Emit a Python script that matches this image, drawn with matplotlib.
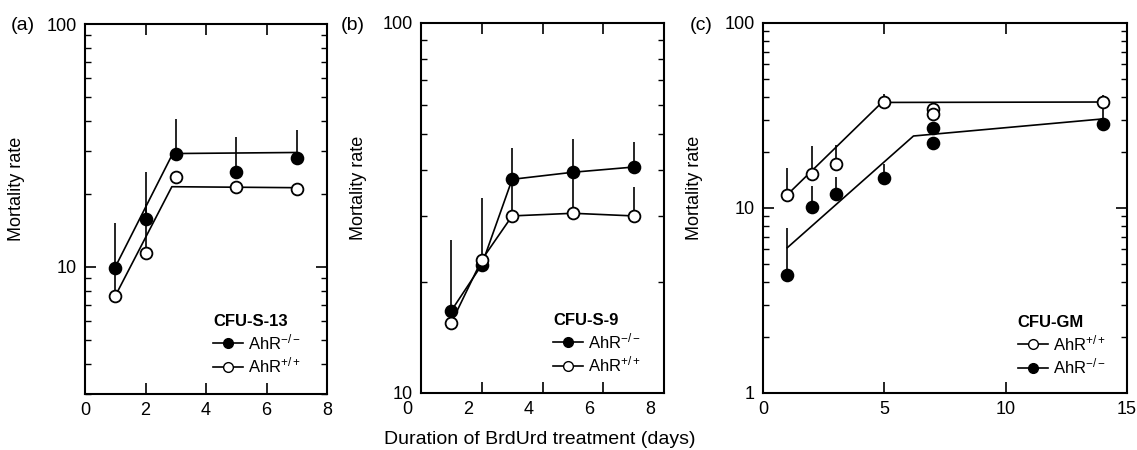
import matplotlib
matplotlib.use('Agg')
import matplotlib.pyplot as plt
import matplotlib.transforms as mtransforms
from matplotlib.lines import Line2D
from matplotlib.ticker import FixedLocator, LogLocator, NullFormatter, FormatStrFormatter
import numpy as np

plt.rcParams['font.family'] = ['Liberation Sans', 'DejaVu Sans']
plt.rcParams['mathtext.fontset'] = 'custom'
plt.rcParams['mathtext.rm'] = 'Liberation Sans'
plt.rcParams['mathtext.it'] = 'Liberation Sans:italic'
plt.rcParams['mathtext.bf'] = 'Liberation Sans:bold'

# (a) CFU-S-13
a_dias = [1, 2, 3, 5, 7]
a_ko = [9.9, 15.8, 29.3, 24.7, 28.2]
a_ko_err = [5.3, 8.9, 11.2, 9.7, 8.3]
a_wt = [7.6, 11.4, 23.5, 21.4, 21.0]
a_wt_err = [2.4, 6.8, 0, 0, 0]
a_ko_fit_x = [1, 2.9, 7]
a_ko_fit_y = [10.0, 29.3, 29.6]
a_wt_fit_x = [1, 2.87, 7]
a_wt_fit_y = [7.6, 21.4, 21.2]

# (b) CFU-S-9
b_dias = [1, 2, 3, 5, 7]
b_ko = [16.7, 22.2, 37.8, 39.5, 40.8]
b_ko_err = [9.2, 11.5, 8.1, 9.0, 6.9]
b_wt = [15.5, 22.9, 30.1, 30.6, 30.1]
b_wt_err = [1.2, 0, 7.0, 8.4, 6.0]

# (c) CFU-GM
c_dias = [1, 2, 3, 5, 7, 7, 14]
c_wt = [11.8, 15.3, 17.3, 37.4, 34.3, 32.2, 37.4]
c_wt_err = [4.7, 6.3, 4.6, 3.9, 2.0, 0, 3.6]
c_ko = [4.35, 10.1, 11.9, 14.5, 27.0, 22.4, 28.4]
c_ko_err = [3.45, 3.0, 2.8, 2.8, 0, 0, 5.9]
c_wt_fit_x = [1, 4.9, 14]
c_wt_fit_y = [11.8, 37.2, 37.4]
c_ko_fit_x = [1, 6.2, 14]
c_ko_fit_y = [6.1, 24.5, 30.3]

lbl_ko = 'AhR$^{-/-}$'
lbl_wt = 'AhR$^{+/+}$'

fig = plt.figure(figsize=(11.37, 4.5), dpi=100)
ax_a = fig.add_axes([0.0748, 0.1244, 0.2128, 0.8222])
ax_b = fig.add_axes([0.3703, 0.1267, 0.2137, 0.8222])
ax_c = fig.add_axes([0.6711, 0.1267, 0.3201, 0.8222])


def formatar_eixo(ax, xmax, xticks, ymin, label_x):
    ax.set_yscale('log')
    ax.set_xlim(0, xmax)
    ax.set_ylim(ymin, 100)
    ax.set_xticks(xticks)
    ax.yaxis.set_major_locator(FixedLocator([1, 10, 100]))
    ax.yaxis.set_major_formatter(FormatStrFormatter('%d'))
    ax.yaxis.set_minor_locator(LogLocator(base=10, subs=np.arange(2, 10)))
    ax.yaxis.set_minor_formatter(NullFormatter())
    ax.tick_params(which='both', direction='in', top=True, right=True,
                   labelsize=13, pad=6)
    ax.tick_params(which='major', length=8, width=1.2)
    ax.tick_params(which='minor', length=4.5, width=1.0)
    for s in ax.spines.values():
        s.set_linewidth(1.5)
    ax.set_ylabel('Mortality rate', fontsize=13)
    ax.yaxis.set_label_coords(label_x, 0.555)


def barras(ax, x, y, err):
    ax.errorbar(x, y, yerr=[np.zeros(len(err)), err], fmt='none',
                ecolor='black', elinewidth=1.2, capsize=0, zorder=2)


def pontos(ax, x, y, cheio):
    ax.plot(x, y, 'o', linestyle='none', markersize=8.5,
            markerfacecolor='black' if cheio else 'white',
            markeredgecolor='black', markeredgewidth=1.3, zorder=4)


def legenda(ax, titulo, ordem, x0, y0):
    h_ko = Line2D([], [], color='black', lw=1.2, marker='o', markersize=7,
                  markerfacecolor='black', markeredgecolor='black')
    h_wt = Line2D([], [], color='black', lw=1.2, marker='o', markersize=7,
                  markerfacecolor='white', markeredgecolor='black')
    if ordem == 'ko':
        hs, ls = [h_ko, h_wt], [lbl_ko, lbl_wt]
    else:
        hs, ls = [h_wt, h_ko], [lbl_wt, lbl_ko]
    ax.legend(hs, ls, title=titulo,
              title_fontproperties={'weight': 'bold', 'size': 12},
              loc='lower left', bbox_to_anchor=(x0, y0), frameon=False,
              fontsize=12, handlelength=1.8, handletextpad=0.3,
              labelspacing=0.2, borderpad=0, borderaxespad=0,
              alignment='left')


# Painel (a)
formatar_eixo(ax_a, 8, [0, 2, 4, 6, 8], 3, -0.248)
ax_a.plot(a_ko_fit_x, a_ko_fit_y, color='black', lw=1.2, zorder=3)
ax_a.plot(a_wt_fit_x, a_wt_fit_y, color='black', lw=1.2, zorder=3)
barras(ax_a, a_dias, a_ko, a_ko_err)
barras(ax_a, a_dias, a_wt, a_wt_err)
pontos(ax_a, a_dias, a_ko, True)
pontos(ax_a, a_dias, a_wt, False)
legenda(ax_a, 'CFU-S-13', 'ko', 0.53, 0.05)

# Painel (b)
formatar_eixo(ax_b, 8, [0, 2, 4, 6, 8], 10, -0.222)
barras(ax_b, b_dias, b_ko, b_ko_err)
barras(ax_b, b_dias, b_wt, b_wt_err)
ax_b.plot(b_dias, b_ko, color='black', lw=1.2, zorder=3)
ax_b.plot(b_dias, b_wt, color='black', lw=1.2, zorder=3)
pontos(ax_b, b_dias, b_ko, True)
pontos(ax_b, b_dias, b_wt, False)
legenda(ax_b, 'CFU-S-9', 'ko', 0.543, 0.05)
# rótulos do eixo x deslocados para a esquerda
desloc = mtransforms.ScaledTranslation(-0.14, 0, fig.dpi_scale_trans)
for t in ax_b.get_xticklabels():
    t.set_transform(t.get_transform() + desloc)

# Painel (c)
formatar_eixo(ax_c, 15, [0, 5, 10, 15], 1, -0.165)
ax_c.plot(c_wt_fit_x, c_wt_fit_y, color='black', lw=1.2, zorder=3)
ax_c.plot(c_ko_fit_x, c_ko_fit_y, color='black', lw=1.2, zorder=3)
barras(ax_c, c_dias, c_wt, c_wt_err)
barras(ax_c, c_dias, c_ko, c_ko_err)
pontos(ax_c, c_dias, c_wt, False)
pontos(ax_c, c_dias, c_ko, True)
legenda(ax_c, 'CFU-GM', 'wt', 0.70, 0.045)

# Letras dos painéis e título comum do eixo x
fig.text(23 / 1137, 1 - 25 / 450, '(a)', fontsize=14, ha='center', va='center')
fig.text(353 / 1137, 1 - 25 / 450, '(b)', fontsize=14, ha='center', va='center')
fig.text(701 / 1137, 1 - 25 / 450, '(c)', fontsize=14, ha='center', va='center')
fig.text(540 / 1137, 1 - 444 / 450, 'Duration of BrdUrd treatment (days)',
         fontsize=14, ha='center', va='baseline')

fig.savefig('out.png', dpi=100)
